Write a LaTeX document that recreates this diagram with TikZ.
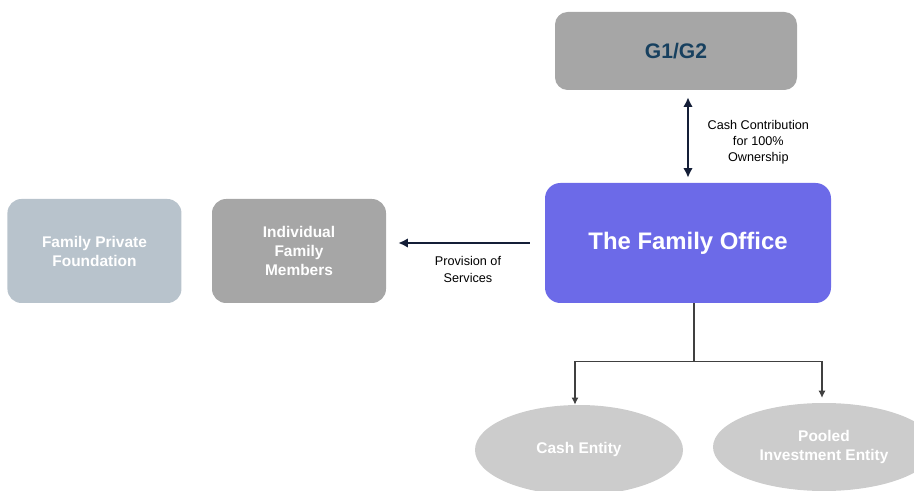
\documentclass[tikz,border=0pt]{standalone}
\usepackage{fontspec}
\setsansfont{Liberation Sans}
\usetikzlibrary{positioning, shapes.geometric, arrows.meta}

\definecolor{boxgray}{RGB}{166,166,166}
\definecolor{fdngray}{RGB}{184,195,204}
\definecolor{officeblue}{RGB}{108,106,232}
\definecolor{entgray}{RGB}{204,204,204}
\definecolor{gentext}{RGB}{23,64,95}
\definecolor{navy}{RGB}{20,30,55}
\definecolor{linegray}{RGB}{64,64,64}

\begin{document}
\begin{tikzpicture}[
  font=\sffamily,
  party/.style={
    rectangle, rounded corners=10pt,
    draw=none, text=white, align=center,
    font=\sffamily\bfseries\fontsize{11}{13.5}\selectfont,
    minimum width=4.35cm, minimum height=2.6cm, inner sep=2pt,
  },
  bigtext/.style={font=\sffamily\bfseries\fontsize{15}{18}\selectfont},
  entity/.style={
    ellipse, fill=entgray, draw=none, text=white, align=center,
    font=\sffamily\bfseries\fontsize{11}{14}\selectfont, inner sep=0pt,
  },
  flow/.style={draw=navy, line width=1.4pt, -{Latex[length=2.4mm,width=2.4mm]}},
  branch/.style={draw=linegray, line width=1pt, -{Latex[length=1.8mm,width=1.8mm]}},
  note/.style={font=\sffamily\fontsize{9}{11.5}\selectfont, align=center},
]

\useasboundingbox (0,0) rectangle (22.85,-12.275);

% parties
\node[party, fill=officeblue, rounded corners=11pt,
      font=\sffamily\bfseries\fontsize{17}{20}\selectfont,
      minimum width=7.15cm, minimum height=3cm] (office) at (17.2,-6.075) {The Family Office};
\node[party, bigtext, fill=boxgray, text=gentext, rounded corners=9pt,
      minimum width=6.05cm, minimum height=1.95cm] (gen) at (16.9,-1.275) {G1/G2};
\node[party, fill=boxgray] (members) at (7.475,-6.275) {Individual\\Family\\Members};
\node[party, fill=fdngray, left=0.75cm of members] (fdn) {Family Private\\Foundation};

% entities
\node[entity, minimum width=5.2cm, minimum height=2.25cm] (cash) at (14.475,-11.25) {Cash Entity};
\node[entity, minimum width=5.55cm, minimum height=2.2cm] (pooled) at (20.6,-11.175) {Pooled\\Investment Entity};

% connectors
\draw[flow, {Latex[length=2.4mm,width=2.4mm]}-{Latex[length=2.4mm,width=2.4mm]}]
  ([yshift=-0.175cm]gen.south -| office.north) -- ([yshift=0.125cm]office.north)
  node[note, midway, right=0.35cm, yshift=-0.125cm] {Cash Contribution\\for 100\%\\Ownership};
\draw[flow] ([xshift=-0.375cm]office.west) -- ([xshift=0.3cm]members.east |- office.west)
  node[note, midway, below=0.2cm, xshift=0.1cm] {Provision of\\Services};

\draw[draw=linegray, line width=1pt] ([xshift=0.15cm]office.south) -- ++(0,-1.45) coordinate (split);
\draw[branch] (split) -| ([xshift=-0.1cm]cash.north);
\draw[branch, shorten >=0.12cm] (split) -| ([xshift=-0.05cm]pooled.north);

\end{tikzpicture}
\end{document}
